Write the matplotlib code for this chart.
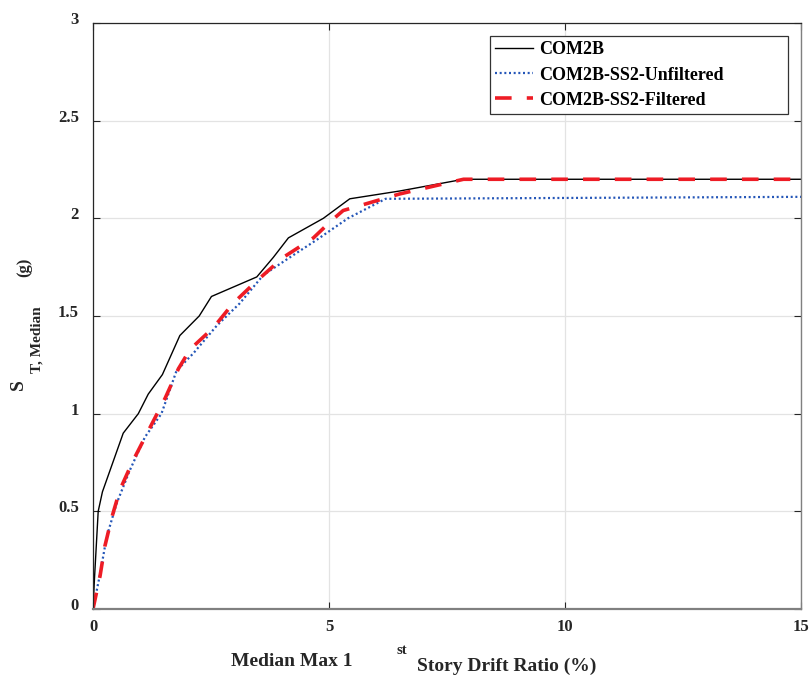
"""Courbe IDA médiane : COM2B vs COM2B-SS2 (filtré / non filtré)."""

import matplotlib

matplotlib.use("Agg")

import matplotlib.pyplot as plt
import matplotlib.transforms as mtransforms

# --- données ---
drift_com2b = [0, 0.03, 0.11, 0.2, 0.64, 0.96, 1.17, 1.47, 1.84, 2.25, 2.51,
               3.47, 3.82, 4.14, 4.88, 5.44, 6.5, 7.85, 15]
sa_com2b = [0, 0.15, 0.5, 0.6, 0.9, 1.0, 1.1, 1.2, 1.4, 1.5, 1.6,
            1.7, 1.8, 1.9, 2.0, 2.1, 2.14, 2.2, 2.2]

drift_unfilt = [0, 0.15, 0.29, 0.5, 0.78, 1.1, 1.45, 1.77, 2.13, 2.62, 3.11,
                3.61, 4.17, 4.74, 5.4, 6.2, 15]
sa_unfilt = [0, 0.18, 0.37, 0.54, 0.71, 0.88, 1.0, 1.22, 1.31, 1.45, 1.565,
             1.71, 1.8, 1.89, 2.0, 2.1, 2.11]

drift_filt = [0, 0.15, 0.25, 0.4, 0.57, 0.85, 1.21, 1.53, 1.81, 2.06, 2.55,
              2.97, 3.47, 4.03, 4.67, 5.06, 5.3, 6.5, 7.85, 15]
sa_filt = [0, 0.17, 0.32, 0.47, 0.61, 0.76, 0.93, 1.08, 1.23, 1.33, 1.44,
           1.565, 1.68, 1.8, 1.9, 1.99, 2.04, 2.125, 2.2, 2.2]

labels = ["COM2B", "COM2B-SS2-Unfiltered", "COM2B-SS2-Filtered"]
x_ticks = [0, 5, 10, 15]
y_ticks = [0, 0.5, 1, 1.5, 2, 2.5, 3]

W, H = 809, 679
plt.rcParams["font.family"] = ["Liberation Serif", "DejaVu Serif"]
plt.rcParams["font.weight"] = "bold"

fig = plt.figure(figsize=(W / 100, H / 100), dpi=100)
ax = fig.add_axes([93 / W, 1 - 609 / H, 708 / W, 586 / H])

ax.plot(drift_com2b, sa_com2b, color="black", lw=1.0, label=labels[0])
ax.plot(drift_unfilt, sa_unfilt, color="#2456b8", lw=1.6,
        linestyle=(0, (0.9, 1.2)), label=labels[1])
ax.plot(drift_filt, sa_filt, color="#ee1c25", lw=2.6,
        linestyle=(0, (4.6, 4.2)), label=labels[2])

ax.set_xlim(0, 15)
ax.set_ylim(0, 3)
ax.set_xticks(x_ticks)
ax.set_yticks(y_ticks)
ax.set_xticklabels([str(v) for v in x_ticks], fontsize=12, fontweight="bold",
                   color="#262626")
ax.set_yticklabels([f"{v:g}" for v in y_ticks], fontsize=12, fontweight="bold",
                   color="#262626")
ax.tick_params(direction="in", length=5, width=0.8, top=True, right=True,
               color="#262626")
ax.tick_params(axis="y", pad=10)
ax.tick_params(axis="x", pad=7)
# les étiquettes Y de MATLAB sont légèrement décalées vers le haut
shift = mtransforms.ScaledTranslation(0, 5 / 100, fig.dpi_scale_trans)
for lab in ax.get_yticklabels():
    lab.set_transform(lab.get_transform() + shift)

ax.grid(True, color="#e3e3e3", lw=0.9)
ax.set_axisbelow(True)

for side in ("top", "left"):
    ax.spines[side].set_color("#262626")
    ax.spines[side].set_linewidth(0.9)
ax.spines["right"].set_color("#808080")
ax.spines["right"].set_linewidth(1.0)
ax.spines["bottom"].set_color("#808080")
ax.spines["bottom"].set_linewidth(1.6)

leg = ax.legend(loc="upper left", mode="expand",
                bbox_to_anchor=(490 / W, 1 - 122 / H, 298 / W, 86 / H),
                bbox_transform=fig.transFigure, borderaxespad=0,
                prop={"size": 13, "weight": "bold"}, handlelength=2.1,
                handletextpad=0.3, borderpad=0.3, labelspacing=0.45,
                fancybox=False, framealpha=1, edgecolor="#333333")
leg.get_frame().set_linewidth(0.9)

# étiquette Y en morceaux, comme l'export d'origine
fig.text(18 / W, 1 - 385 / H, "S", rotation=90, fontsize=14,
         fontweight="bold", ha="center", va="center", color="#262626")
fig.text(37 / W, 1 - 340 / H, "T, Median", rotation=90, fontsize=11,
         fontweight="bold", ha="center", va="center", color="#262626")
fig.text(24 / W, 1 - 267 / H, "(g)", rotation=90, fontsize=12,
         fontweight="bold", ha="center", va="center", color="#262626")

# étiquette X en morceaux
fig.text(292 / W, 1 - 662 / H, "Median Max 1", fontsize=14,
         fontweight="bold", ha="center", va="center", color="#262626")
fig.text(402 / W, 1 - 651 / H, "st", fontsize=10.5,
         fontweight="bold", ha="center", va="center", color="#262626")
fig.text(507 / W, 1 - 666 / H, "Story Drift Ratio (%)", fontsize=14,
         fontweight="bold", ha="center", va="center", color="#262626")

fig.savefig("out.png", dpi=100)
